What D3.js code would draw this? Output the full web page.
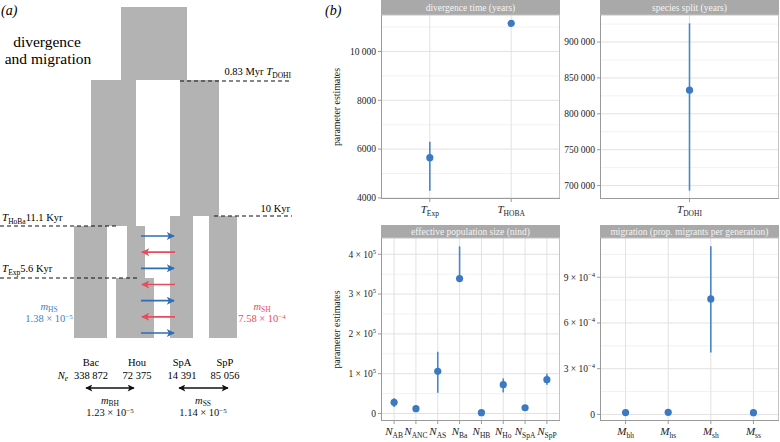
<!DOCTYPE html>
<html><head><meta charset="utf-8">
<script src="https://cdn.jsdelivr.net/npm/d3@7"></script>
<style>
html,body{margin:0;padding:0;background:#fff;}
svg, svg text{font-family:'Liberation Serif','DejaVu Serif',serif;}
</style></head>
<body>
<svg id="c" width="780" height="442" font-family="Liberation Serif, DejaVu Serif, serif"></svg>
<script>
// ---------------- DATA ----------------
// panel (a): schematic labels and estimates
const popNames = ["Bac", "Hou", "SpA", "SpP"];
const popNe = ["338 872", "72 375", "14 391", "85 056"];
const timeLabels = [
  {pre: "0.83 Myr ", sym: "T", sub: "DOHI", post: ""},
  {pre: "10 Kyr", sym: "", sub: "", post: ""},
  {pre: "", sym: "T", sub: "HoBa", post: "11.1 Kyr"},
  {pre: "", sym: "T", sub: "Exp", post: "5.6 Kyr"}
];
const migNames = ["HS", "SH", "BH", "SS"];
const migMant = ["1.38", "7.58", "1.23", "1.14"];
const migExp = ["−5", "−4", "−5", "−5"];
const arrowDirs = ["r", "l", "r", "l", "r", "l", "r"]; // alternating gene-flow arrows

// panel (b) facets
const divCats = ["Exp", "HOBA"];
const divEst = [5650, 11150];
const divLo = [4300, 11150];
const divHi = [6300, 11150];
const divTicks = [4000, 6000, 8000, 10000];
const divTickLabels = ["4000", "6000", "8000", "10 000"];

const splitCats = ["DOHI"];
const splitEst = [833000];
const splitLo = [693000];
const splitHi = [926000];
const splitTicks = [700000, 750000, 800000, 850000, 900000];
const splitTickLabels = ["700 000", "750 000", "800 000", "850 000", "900 000"];

const neCats = ["AB", "ANC", "AS", "Ba", "HB", "Ho", "SpA", "SpP"];
const neEst = [28000, 12000, 106000, 338872, 2000, 72375, 14391, 85056];
const neLo = [16000, 12000, 52000, 336000, 2000, 53000, 14391, 72000];
const neHi = [38000, 12000, 155000, 420000, 2000, 88000, 14391, 100000];
const neTicks = [0, 100000, 200000, 300000, 400000];
const neTickMant = ["0", "1", "2", "3", "4"];
const neTickExp = ["", "5", "5", "5", "5"];

const migCats = ["bh", "hs", "sh", "ss"];
const migEst = [1.23e-5, 1.38e-5, 7.58e-4, 1.14e-5];
const migLo = [1.23e-5, 1.38e-5, 4.07e-4, 1.14e-5];
const migHi = [1.23e-5, 1.38e-5, 1.103e-3, 1.14e-5];
const migTicks = [0, 3e-4, 6e-4, 9e-4];
const migTickMant = ["0", "3", "6", "9"];
const migTickExp = ["", "−4", "−4", "−4"];

// ---------------- DRAW ----------------
const FONT = "Liberation Serif, DejaVu Serif, serif";
const svg = d3.select("#c");
const GREY = "#b3b3b3", BLUE = "#2f6db5", RED = "#ea4a5a";
const BLUE_T = "#3f7fc6", RED_T = "#ea4a5a";

function txt(g) { return g.append("text").attr("font-family", FONT); }

// ===== panel (a) =====
const A = svg.append("g");
txt(A).attr("x", 1).attr("y", 15).attr("font-size", 14).attr("font-style", "italic").text("(a)");
txt(A).attr("x", 47).attr("y", 47).attr("text-anchor", "middle").attr("font-size", 15.5).text("divergence");
txt(A).attr("x", 48).attr("y", 64).attr("text-anchor", "middle").attr("font-size", 15.5).text("and migration");

// schematic geometry (layout)
const blocks = [
  [121, 187, 7, 80], [91, 136, 80, 226], [180, 219, 80, 216],
  [74, 107, 226, 338], [127, 145, 226, 278], [116, 154, 278, 338],
  [170, 193, 216, 338], [209, 237, 216, 338]
];
A.selectAll("rect.blk").data(blocks).join("rect").attr("class", "blk")
  .attr("x", d => d[0]).attr("y", d => d[2]).attr("width", d => d[1] - d[0]).attr("height", d => d[3] - d[2])
  .attr("fill", GREY);

const dashLayout = [
  {x0: 180, x1: 292, y: 81, tx: 291, ty: 75, anchor: "end"},
  {x0: 214, x1: 292, y: 216, tx: 290, ty: 212, anchor: "end"},
  {x0: 0, x1: 117, y: 226, tx: 2, ty: 221, anchor: "start"},
  {x0: 0, x1: 137, y: 278, tx: 2, ty: 272, anchor: "start"}
];
dashLayout.forEach((d, i) => {
  A.append("line").attr("x1", d.x0).attr("x2", d.x1).attr("y1", d.y).attr("y2", d.y)
    .attr("stroke", "#111").attr("stroke-width", 1.1).attr("stroke-dasharray", "4,3");
  const lab = timeLabels[i];
  const t = txt(A).attr("x", d.tx).attr("y", d.ty).attr("text-anchor", d.anchor).attr("font-size", 10.5);
  if (lab.pre) t.append("tspan").text(lab.pre);
  if (lab.sym) {
    t.append("tspan").attr("font-style", "italic").attr("font-size", 11).text(lab.sym);
    t.append("tspan").attr("font-size", 7.5).attr("dy", 2.5).text(lab.sub);
  }
  if (lab.post) t.append("tspan").attr("dy", -2.5).text(lab.post);
});

// arrow markers
const defs = svg.append("defs");
function marker(id, color) {
  defs.append("marker").attr("id", id).attr("viewBox", "0 0 10 10").attr("refX", 9).attr("refY", 5)
    .attr("markerWidth", 10).attr("markerHeight", 8).attr("markerUnits", "userSpaceOnUse")
    .attr("orient", "auto")
    .append("path").attr("d", "M0,0 L10,5 L0,10 L2.5,5 Z").attr("fill", color);
}
marker("ab", BLUE); marker("ar", RED);
defs.append("marker").attr("id", "ak").attr("viewBox", "0 0 10 10").attr("refX", 9).attr("refY", 5)
  .attr("markerWidth", 9).attr("markerHeight", 7).attr("markerUnits", "userSpaceOnUse").attr("orient", "auto-start-reverse")
  .append("path").attr("d", "M0,0 L10,5 L0,10 L2.5,5 Z").attr("fill", "#111");

const arrowY = d3.scaleLinear().domain([0, arrowDirs.length - 1]).range([236, 333]);
A.selectAll("line.mig").data(arrowDirs).join("line").attr("class", "mig")
  .attr("x1", d => d === "r" ? 141 : 175).attr("x2", d => d === "r" ? 174 : 142)
  .attr("y1", (d, i) => arrowY(i)).attr("y2", (d, i) => arrowY(i))
  .attr("stroke", d => d === "r" ? BLUE : RED).attr("stroke-width", 1.6)
  .attr("marker-end", d => d === "r" ? "url(#ab)" : "url(#ar)");

function migText(g, x, y, i, color) {
  const t1 = txt(g).attr("x", x).attr("y", y).attr("text-anchor", "middle").attr("font-size", 10.5).attr("fill", color);
  t1.append("tspan").attr("font-style", "italic").text("m");
  t1.append("tspan").attr("font-size", 7.5).attr("dy", 1.5).text(migNames[i]);
  const t2 = txt(g).attr("x", x).attr("y", y + 12).attr("text-anchor", "middle").attr("font-size", 10.5).attr("fill", color);
  t2.append("tspan").text(migMant[i] + " × 10");
  t2.append("tspan").attr("font-size", 7).attr("dy", -3.5).text(migExp[i]);
}
migText(A, 49, 310, 0, BLUE_T);
migText(A, 262, 310, 1, RED_T);

const popX = [91, 137, 182, 225];
popNames.forEach((d, i) => {
  txt(A).attr("x", popX[i]).attr("y", 366).attr("text-anchor", "middle").attr("font-size", 10.5).text(d);
  txt(A).attr("x", popX[i]).attr("y", 379).attr("text-anchor", "middle").attr("font-size", 10.5).text(popNe[i]);
});
const neLab = txt(A).attr("x", 63).attr("y", 379).attr("text-anchor", "middle").attr("font-size", 10.5);
neLab.append("tspan").attr("font-style", "italic").text("N");
neLab.append("tspan").attr("font-style", "italic").attr("font-size", 7.5).attr("dy", 2).text("e");

[[86, 134, 110, 2], [179, 228, 203, 3]].forEach(d => {
  A.append("line").attr("x1", d[0]).attr("x2", d[1]).attr("y1", 388).attr("y2", 388)
    .attr("stroke", "#111").attr("stroke-width", 1.3)
    .attr("marker-start", "url(#ak)").attr("marker-end", "url(#ak)");
  migText(A, d[2], 404, d[3], "#111");
});

// ===== panel (b) =====
txt(svg).attr("x", 325).attr("y", 15).attr("font-size", 14).attr("font-style", "italic").text("(b)");

function facet(opt) {
  const {x0, x1, sy0, sy1, py1, title, cats, est, lo, hi, ticks, sym, tickLab, yTitle} = opt;
  const g = svg.append("g");
  const all = est.concat(lo, hi);
  const mn = d3.min(all), mx = d3.max(all), pad = (mx - mn) * 0.05;
  const y = d3.scaleLinear().domain([mn - pad, mx + pad]).range([py1, sy1]);
  const x = d3.scalePoint().domain(cats).range([x0, x1]).padding(0.6);
  // strip
  g.append("rect").attr("x", x0).attr("y", sy0).attr("width", x1 - x0).attr("height", sy1 - sy0).attr("fill", "#a9a9a9");
  txt(g).attr("x", (x0 + x1) / 2).attr("y", (sy0 + sy1) / 2 + 3.2).attr("text-anchor", "middle")
    .attr("font-size", 9.5).attr("fill", "#f4f4f4").text(title);
  // minor grid
  const step = ticks[1] - ticks[0];
  const minors = [];
  for (let i = -1; i < ticks.length; i++) {
    const v = ticks[0] + step * (i + 0.5);
    if (y(v) > sy1 && y(v) < py1) minors.push(v);
  }
  g.selectAll("line.mn").data(minors).join("line").attr("class", "mn").attr("x1", x0).attr("x2", x1)
    .attr("y1", d => y(d)).attr("y2", d => y(d)).attr("stroke", "#ededed").attr("stroke-width", 0.8);
  g.selectAll("line.mj").data(ticks).join("line").attr("class", "mj").attr("x1", x0).attr("x2", x1)
    .attr("y1", d => y(d)).attr("y2", d => y(d)).attr("stroke", "#e2e2e2").attr("stroke-width", 1);
  g.selectAll("line.vx").data(cats).join("line").attr("class", "vx").attr("x1", d => x(d)).attr("x2", d => x(d))
    .attr("y1", sy1).attr("y2", py1).attr("stroke", "#e2e2e2").attr("stroke-width", 1);
  // border
  g.append("rect").attr("x", x0 + 0.5).attr("y", sy1).attr("width", x1 - x0 - 1).attr("height", py1 - sy1 - 0.5)
    .attr("fill", "none").attr("stroke", "#c4c4c4").attr("stroke-width", 1);
  g.append("line").attr("x1", x0 + 0.5).attr("x2", x0 + 0.5).attr("y1", sy1).attr("y2", py1).attr("stroke", "#9a9a9a");
  g.append("line").attr("x1", x0).attr("x2", x1).attr("y1", py1 - 0.5).attr("y2", py1 - 0.5).attr("stroke", "#9a9a9a");
  // y ticks
  g.selectAll("line.tk").data(ticks).join("line").attr("class", "tk").attr("x1", x0 - 3).attr("x2", x0)
    .attr("y1", d => y(d)).attr("y2", d => y(d)).attr("stroke", "#9a9a9a");
  ticks.forEach((v, i) => {
    const t = txt(g).attr("x", x0 - 5).attr("y", y(v) + 3.3).attr("text-anchor", "end").attr("font-size", 9.5).attr("fill", "#222");
    if (!tickLab.exp || tickLab.exp[i] === "") { t.text(tickLab.lab[i]); }
    else {
      t.append("tspan").text(tickLab.lab[i] + " × 10");
      t.append("tspan").attr("font-size", 6.5).attr("dy", -4).text(tickLab.exp[i]);
    }
  });
  // x ticks
  g.selectAll("line.xk").data(cats).join("line").attr("class", "xk").attr("x1", d => x(d)).attr("x2", d => x(d))
    .attr("y1", py1).attr("y2", py1 + 3).attr("stroke", "#9a9a9a");
  cats.forEach(c => {
    const t = txt(g).attr("x", x(c)).attr("y", py1 + 14).attr("text-anchor", "middle").attr("font-size", 11).attr("fill", "#222");
    t.append("tspan").attr("font-style", "italic").text(sym);
    t.append("tspan").attr("font-size", 7.5).attr("dy", 2.5).text(c);
  });
  // error bars + points
  g.selectAll("line.eb").data(cats).join("line").attr("class", "eb").attr("x1", d => x(d)).attr("x2", d => x(d))
    .attr("y1", (d, i) => y(lo[i])).attr("y2", (d, i) => y(hi[i])).attr("stroke", "#4a86c8").attr("stroke-width", 1.6);
  g.selectAll("circle").data(cats).join("circle").attr("cx", d => x(d)).attr("cy", (d, i) => y(est[i]))
    .attr("r", 3.6).attr("fill", "#3b79c3");
  if (yTitle) {
    txt(g).attr("transform", `translate(340,${(sy1 + py1) / 2}) rotate(-90)`).attr("text-anchor", "middle")
      .attr("font-size", 9.8).attr("fill", "#222").text("parameter estimates");
  }
}

facet({x0: 381, x1: 560, sy0: 0, sy1: 15, py1: 199, title: "divergence time (years)", cats: divCats,
  est: divEst, lo: divLo, hi: divHi, ticks: divTicks, sym: "T", tickLab: {lab: divTickLabels}, yTitle: true});
facet({x0: 600, x1: 779, sy0: 0, sy1: 15, py1: 199, title: "species split (years)", cats: splitCats,
  est: splitEst, lo: splitLo, hi: splitHi, ticks: splitTicks, sym: "T", tickLab: {lab: splitTickLabels}, yTitle: false});
facet({x0: 381, x1: 560, sy0: 225, sy1: 238, py1: 421, title: "effective population size (nind)", cats: neCats,
  est: neEst, lo: neLo, hi: neHi, ticks: neTicks, sym: "N", tickLab: {lab: neTickMant, exp: neTickExp}, yTitle: true});
facet({x0: 600, x1: 779, sy0: 225, sy1: 238, py1: 421, title: "migration (prop. migrants per generation)", cats: migCats,
  est: migEst, lo: migLo, hi: migHi, ticks: migTicks, sym: "M", tickLab: {lab: migTickMant, exp: migTickExp}, yTitle: false});
</script>
</body></html>
